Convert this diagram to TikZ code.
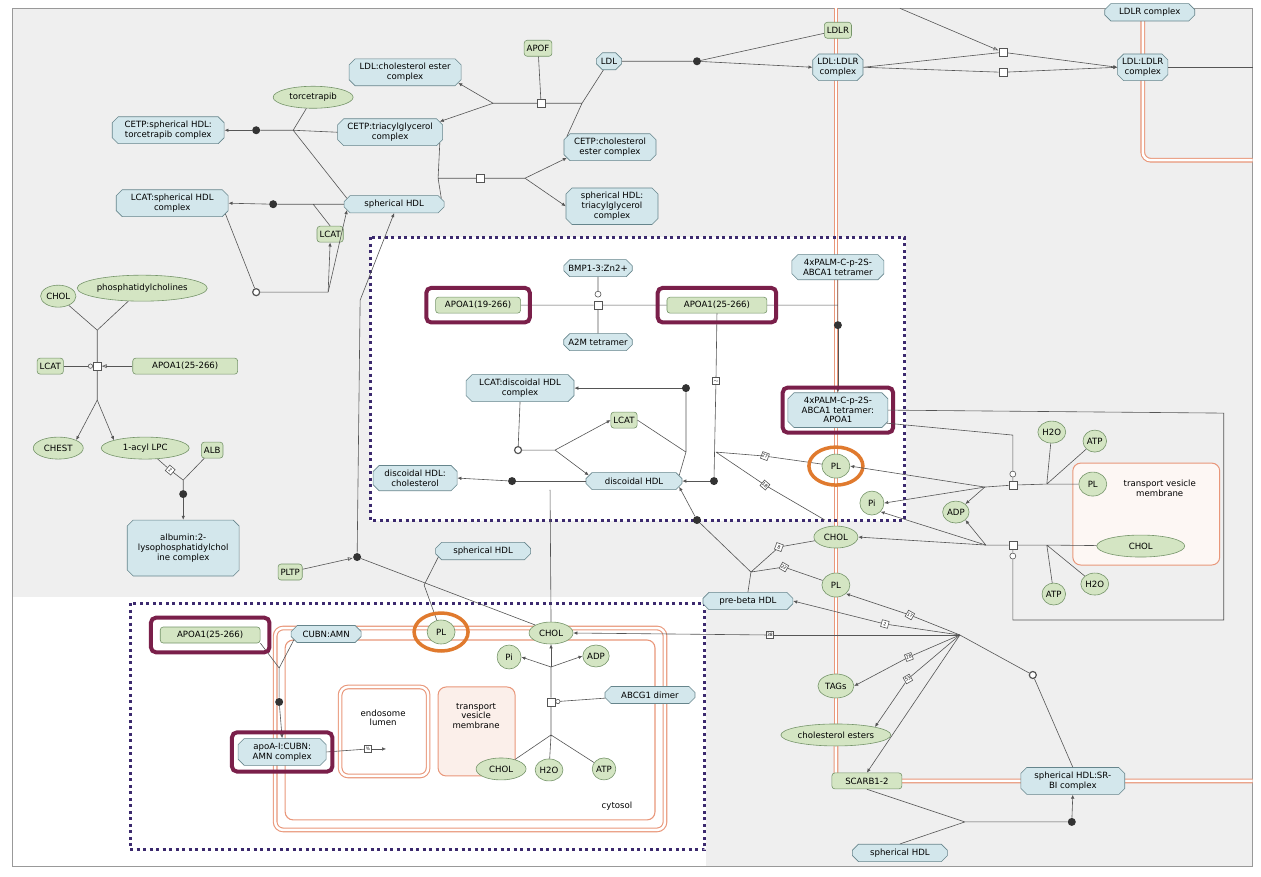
\documentclass[tikz,border=0pt]{standalone}
\usepackage{fontspec}
\setmainfont{DejaVu Sans}
\usetikzlibrary{shapes.misc,shapes.geometric,positioning,arrows.meta}
\definecolor{cplxfill}{HTML}{D3E7EC}
\definecolor{cplxline}{HTML}{66858C}
\definecolor{protfill}{HTML}{D4E5C3}
\definecolor{protline}{HTML}{76956A}
\definecolor{linec}{HTML}{555555}
\definecolor{memc}{HTML}{E9977A}
\definecolor{memfill}{HTML}{FBEFEA}
\definecolor{hlc}{HTML}{7A1F4A}
\definecolor{ringc}{HTML}{E07A2E}
\definecolor{boxc}{HTML}{3C2A6E}
\definecolor{bgc}{HTML}{EFEFEF}
\tikzset{
  cplx/.style={chamfered rectangle, chamfered rectangle xsep=2pt, chamfered rectangle sep=3pt,
    draw=cplxline, fill=cplxfill, align=center, inner sep=1.5pt, minimum height=17pt},
  prot/.style={rectangle, rounded corners=3pt, draw=protline, fill=protfill, minimum height=16pt, inner sep=2.5pt},
  chem/.style={ellipse, draw=protline, fill=protfill, inner sep=0.5pt, minimum height=22pt},
  proc/.style={rectangle, draw=linec, fill=white, minimum size=8pt, inner sep=0pt},
  lbl/.style={rectangle, draw=linec, fill=white, minimum size=7pt, inner sep=0.5pt, font=\fontsize{4.5}{5}\selectfont},
  dot/.style={circle, fill=black!80, minimum size=8pt, inner sep=0pt},
  ocirc/.style={circle, draw=linec, line width=1.2pt, fill=white, minimum size=7pt, inner sep=0pt},
  hl/.style={draw=hlc, line width=4pt, rounded corners=5pt},
  ring/.style={draw=ringc, line width=3.5pt},
  mem/.style={draw=memc, double=white, double distance=2.5pt, line width=1.1pt, rounded corners=8pt},
  dotbox/.style={draw=boxc, line width=3pt, dash pattern=on 3pt off 3.5pt},
  every path/.style={draw=linec, line width=0.6pt}
}
\begin{document}
\begin{tikzpicture}[x=1pt, y=-1pt, font=\fontsize{8.6}{9.6}\selectfont, >={Latex[length=4pt,width=3.5pt]}]
\useasboundingbox (0,0) rectangle (1261,876);
\fill[white] (0,0) rectangle (1261,876);
% compartments and boxes
\fill[bgc] (12,8) rectangle (1253,866);
\fill[white] (370,237) rectangle (905,520);
\fill[white] (12,597) rectangle (705,866);
\draw[linec!60, line width=0.8pt] (12,8) rectangle (1253,866);
\draw[mem, rounded corners=0pt] (836,8) -- (836,770);
\draw[mem] (836,740) -- (836,781) -- (1253,781);
\draw[mem] (1143,8) -- (1143,160) -- (1253,160);
\draw[mem] (275,628) rectangle (665,830);
\draw[draw=memc, line width=1.1pt, rounded corners=8pt] (285,640) rectangle (655,820);
\draw[mem] (340,687) rectangle (428,776);
\draw[draw=memc, fill=memfill, line width=1pt, rounded corners=8pt] (438,687) rectangle (515,776);
\draw[draw=memc, fill=memfill!50, line width=1pt, rounded corners=8pt] (1073,463) rectangle (1220,565);
\draw[dotbox] (370,237) rectangle (905,520);
\draw[dotbox] (130,603) rectangle (705,850);
\node[align=center] at (383,718) {endosome\\lumen};
\node[align=center] at (476,716) {transport\\vesicle\\membrane};
\node at (617,806) {cytosol};
\node[align=center] at (1160,488) {transport vesicle\\membrane};

% top left
\node[cplx, minimum width=112] (ldlce) at (405,72) {LDL:cholesterol ester\\complex};
\node[prot] (apof) at (538,48) {APOF};
\node[cplx] (ldl) at (609,61) {LDL};
\node[chem, minimum width=80] (torc) at (313,97) {torcetrapib};
\node[cplx, minimum width=112] (cetptor) at (168,130) {CETP:spherical HDL:\\torcetrapib complex};
\node[cplx, minimum width=105] (cetptag) at (390,132) {CETP:triacylglycerol\\complex};
\node[cplx, minimum width=92] (cetpce) at (610,147) {CETP:cholesterol\\ester complex};
\node[cplx, minimum width=92] (shdltag) at (612,206) {spherical HDL:\\triacylglycerol\\complex};
\node[cplx, minimum width=100] (shdl) at (394,204) {spherical HDL};
\node[cplx, minimum width=112] (lcatshdl) at (172,203) {LCAT:spherical HDL\\complex};
\node[prot] (lcat1) at (330,234) {LCAT};
\node[ocirc] (oc1) at (256,292) {};
\node[proc] (p1) at (541,103) {};
\node[proc] (p2) at (480,178) {};
\node[dot] (d2) at (256,130) {};
\node[dot] (d3) at (273,204) {};
\coordinate (b1) at (582,103);
\coordinate (b2) at (493,103);
\coordinate (b3) at (438,178);
\coordinate (b4) at (525,178);
\coordinate (b5) at (293,130);
\coordinate (b6) at (313,204);
\coordinate (b7) at (328,292);
\draw (ldl) -- (b1) (cetpce.north west) -- (b1) (b1) -- (p1) -- (b2) (apof) -- (p1);
\draw[->] (b2) -- (ldlce.south east);
\draw[->] (b2) -- (cetptag.north east);
\draw (cetptag.south east) -- (b3) (shdl.north east) -- (b3) (b3) -- (p2) -- (b4);
\draw[->] (b4) -- (cetpce.south west);
\draw[->] (b4) -- (shdltag.west);
\draw (torc) -- (b5) (cetptag.west) -- (b5) (shdl.north west) -- (b5) (b5) -- (d2);
\draw[->] (d2) -- (cetptor.east);
\draw (shdl.west) -- (b6) (lcat1.north) -- (b6) (b6) -- (d3);
\draw[->] (d3) -- (lcatshdl.east);
\draw (lcatshdl.south east) -- (oc1) -- (b7);
\draw[->] (b7) -- (lcat1.south);
\draw[->] (b7) -- (shdl.south west);

% top right
\node[prot] (ldlr) at (838,30) {LDLR};
\node[cplx] (ldlldlr) at (838,67) {LDL:LDLR\\complex};
\node[cplx] (ldlldlr2) at (1143,67) {LDL:LDLR\\complex};
\node[cplx, minimum width=90] (ldlrc) at (1150,12) {LDLR complex};
\node[dot] (d1) at (697,61) {};
\node[proc] (p3) at (1003,52) {};
\node[proc] (p4) at (1003,72) {};
\coordinate (t1) at (900,8);
\coordinate (t2) at (1253,67);
\draw (ldl) -- (d1) (ldlr) -- (d1);
\draw[->] (d1) -- (ldlldlr.west);
\draw[-{Latex[open,length=5pt,width=4pt]}] (t1) -- (p3);
\draw (ldlldlr.east) -- (p3) (ldlldlr.east) -- (p4);
\draw[->] (p3) -- (ldlldlr2.west);
\draw[->] (p4) -- (ldlldlr2.west);
\draw (ldlldlr2.east) -- (t2);

% left LCAT reaction
\node[chem] (chol1) at (58,296) {CHOL};
\node[chem, minimum width=110, minimum height=26] (pc) at (142,288) {phosphatidylcholines};
\node[prot] (lcat0) at (50,366) {LCAT};
\node[prot, minimum width=105] (apo0) at (185,366) {APOA1(25-266)};
\node[proc] (p0) at (97,366) {};
\node[chem, minimum width=50] (chest) at (58,448) {CHEST};
\node[chem, minimum width=88] (lpc) at (145,448) {1-acyl LPC};
\node[prot] (alb) at (212,450) {ALB};
\node[lbl, rotate=-40] (l2a) at (170,470) {2};
\node[dot] (d0) at (183,494) {};
\node[cplx, minimum width=112, minimum height=56] (albc) at (183,548) {albumin:2-\\lysophosphatidylchol\\ine complex};
\coordinate (b8) at (97,330);
\coordinate (b9) at (97,400);
\coordinate (b10) at (183,480);
\draw (chol1) -- (b8) (pc) -- (b8) (b8) -- (p0) -- (b9);
\draw[-{Circle[open,length=5pt]}] (lcat0) -- (p0);
\draw[-{Latex[open,length=5pt,width=4pt]}] (apo0) -- (p0);
\draw[->] (b9) -- (chest.north east);
\draw[->] (b9) -- (lpc.north west);
\draw (lpc) -- (l2a) -- (b10) (alb) -- (b10) (b10) -- (d0);
\draw[->] (d0) -- (albc.north);

% inner box
\node[cplx] (bmp) at (598,268) {BMP1-3:Zn2+};
\node[cplx] (a2m) at (598,342) {A2M tetramer};
\node[prot, minimum width=85] (apo19) at (478,305) {APOA1(19-266)};
\node[prot, minimum width=100] (apo25) at (717,305) {APOA1(25-266)};
\node[cplx, minimum width=92] (abca) at (838,267) {4xPALM-C-p-2S-\\ABCA1 tetramer};
\node[cplx, minimum width=100] (abcaapo) at (838,410) {4xPALM-C-p-2S-\\ABCA1 tetramer:\\APOA1};
\node[cplx, minimum width=108] (lcatdisc) at (520,388) {LCAT:discoidal HDL\\complex};
\node[prot] (lcat2) at (624,420) {LCAT};
\node[cplx, minimum width=96] (disc) at (634,481) {discoidal HDL};
\node[cplx, minimum width=84] (discchol) at (415,478) {discoidal HDL:\\cholesterol};
\node[chem, minimum width=28, minimum height=24] (pl1) at (836,466) {PL};
\node[chem, minimum width=24, minimum height=24] (pi1) at (872,503) {Pi};
\node[proc] (p5) at (598,305) {};
\node[ocirc, minimum size=6pt, line width=0.6pt] (oc5) at (598,294) {};
\node[dot] (d5) at (838,325) {};
\node[dot] (d6) at (686,388) {};
\node[dot] (d7) at (714,481) {};
\node[dot] (d8) at (512,481) {};
\node[ocirc] (oc6) at (518,450) {};
\node[lbl] (ltil) at (716,381) {$\sim$};
\node[lbl, rotate=-20] (l27) at (765,456) {27};
\node[lbl, rotate=-40] (l18) at (765,485) {18};
\coordinate (b11) at (686,452);
\coordinate (b12) at (555,450);
\coordinate (b13) at (716,452);
\coordinate (b14) at (838,305);
\draw (apo19) -- (p5) -- (apo25) (bmp) -- (oc5) (a2m) -- (p5);
\draw (apo25.east) -- (b14) (abca) -- (d5);
\draw[->] (d5) -- (abcaapo.north);
\draw (apo25.south) -- (ltil) -- (d7);
\draw[->] (d7) -- (disc.east);
\draw (lcat2.east) -- (b11) (disc.north east) -- (b11) (b11) -- (d6);
\draw[->] (d6) -- (lcatdisc.east);
\draw (lcatdisc.south) -- (oc6) -- (b12);
\draw[->] (b12) -- (lcat2.west);
\draw[->] (b12) -- (disc.north west);
\draw (disc.west) -- (d8);
\draw[->] (d8) -- (discchol.east);
\draw (b13) -- (l27) -- (pl1) (b13) -- (l18) -- (825,520);
\draw[hl] ([xshift=-9pt,yshift=9pt]apo19.north west) rectangle ([xshift=9pt,yshift=-9pt]apo19.south east);
\draw[hl] ([xshift=-9pt,yshift=9pt]apo25.north west) rectangle ([xshift=9pt,yshift=-9pt]apo25.south east);
\draw[hl] ([xshift=-8pt,yshift=8pt]abcaapo.north west) rectangle ([xshift=8pt,yshift=-8pt]abcaapo.south east);
\draw[ring] (pl1) ellipse (27pt and 19pt);

% right side
\node[chem] (h2o1) at (1052,432) {H2O};
\node[chem] (atp1) at (1095,441) {ATP};
\node[chem, minimum width=28, minimum height=24] (pl2) at (1093,484) {PL};
\node[chem] (adp1) at (956,512) {ADP};
\node[chem, minimum width=88] (chol2) at (1141,546) {CHOL};
\node[chem] (atp2) at (1054,594) {ATP};
\node[chem] (h2o2) at (1095,584) {H2O};
\node[chem, minimum width=44] (chol3) at (836,537) {CHOL};
\node[chem, minimum width=28, minimum height=24] (pl3) at (836,585) {PL};
\node[cplx, minimum width=90] (prebeta) at (748,601) {pre-beta HDL};
\node[chem, minimum width=36, minimum height=24] (tags) at (836,686) {TAGs};
\node[chem, minimum width=110] (ce) at (836,735) {cholesterol esters};
\node[prot, minimum width=70] (scarb) at (867,781) {SCARB1-2};
\node[cplx, minimum width=104] (srbi) at (1073,781) {spherical HDL:SR-\\BI complex};
\node[cplx, minimum width=95] (shdl3) at (900,853) {spherical HDL};
\node[proc] (p6) at (1013,485) {};
\node[proc] (p7) at (1013,545) {};
\node[ocirc, minimum size=6pt, line width=0.6pt] (oc2) at (1013,474) {};
\node[ocirc, minimum size=6pt, line width=0.6pt] (oc3) at (1013,556) {};
\node[ocirc] (oc4) at (1033,675) {};
\node[dot] (d9) at (1072,822) {};
\node[dot] (d10) at (697,520) {};
\node[lbl, rotate=-20] (l8) at (779,547) {8};
\node[lbl, rotate=-30] (l22) at (784,567) {22};
\node[lbl, rotate=-30] (l17) at (910,615) {17};
\node[lbl, rotate=-15] (l2b) at (885,624) {2};
\node[lbl] (l38) at (770,635) {38};
\node[lbl, rotate=20] (l28) at (909,657) {28};
\node[lbl, rotate=30] (l53) at (908,679) {53};
\coordinate (hub) at (960,635);
\coordinate (b15) at (1047,484);
\coordinate (b16) at (985,487);
\coordinate (b17) at (1047,545);
\coordinate (b18) at (986,545);
\coordinate (b19) at (751,572);
\coordinate (b20) at (965,822);
\draw (abcaapo.east) -- (1224,413) -- (1224,620) -- (1013,620) -- (oc3) -- (p7);
\draw (abcaapo.-15) -- (1013,435) -- (oc2) -- (p6);
\draw (pl2) -- (b15) (h2o1) -- (b15) (atp1.south west) -- (b15) (b15) -- (p6) -- (b16);
\draw[->] (b16) -- (pl1.east);
\draw[->] (b16) -- (pi1.east);
\draw[->] (b16) -- (adp1.north east);
\draw (chol2) -- (b17) (atp2) -- (b17) (h2o2.north west) -- (b17) (b17) -- (p7) -- (b18);
\draw[->] (b18) -- (chol3.east);
\draw[->] (b18) -- (adp1.south east);
\draw[->] (b18) -- (pi1.south east);
\draw (chol3) -- (l8) -- (b19) (pl3) -- (l22) -- (b19) (prebeta.north) -- (b19) (b19) -- (d10);
\draw[->] (d10) -- (disc.south east);
\draw[->] (hub) -- (l17) -- (pl3.south east);
\draw[->] (hub) -- (l2b) -- (prebeta.east);
\draw[->] (hub) -- (l28) -- (tags.east);
\draw[->] (hub) -- (l53) -- (ce.north east);
\draw[->] (hub) -- (scarb.north);
\draw (hub) -- (oc4) -- (srbi.north);
\draw (scarb.south) -- (b20) (shdl3.north) -- (b20) (b20) -- (d9);
\draw[->] (d9) -- (srbi.south);

% lower left box
\node[prot] (pltp) at (290,572) {PLTP};
\node[cplx, minimum width=95] (shdl2) at (483,551) {spherical HDL};
\node[prot, minimum width=100] (apo25b) at (210,635) {APOA1(25-266)};
\node[cplx, minimum width=70] (cubn) at (326,634) {CUBN:AMN};
\node[cplx, minimum width=88] (apoacubn) at (282,752) {apoA-I:CUBN:\\AMN complex};
\node[chem, minimum width=28, minimum height=24] (pl4) at (441,632) {PL};
\node[chem, minimum width=44] (chol4) at (551,633) {CHOL};
\node[chem, minimum width=24, minimum height=24] (pi2) at (509,657) {Pi};
\node[chem] (adp2) at (596,656) {ADP};
\node[cplx, minimum width=90] (abcg) at (650,695) {ABCG1 dimer};
\node[chem, minimum width=50] (chol5) at (501,769) {CHOL};
\node[chem] (h2o3) at (549,770) {H2O};
\node[chem] (atp3) at (604,769) {ATP};
\node[dot] (d11) at (357,557) {};
\node[dot] (d12) at (279,702) {};
\node[proc] (p8) at (551,702) {};
\node[lbl] (lpct) at (368,749) {\%};
\coordinate (e1) at (386,749);
\coordinate (b21) at (279,668);
\coordinate (b22) at (424,585);
\coordinate (b23) at (551,667);
\coordinate (b24) at (551,735);
\draw[-{Latex[open,length=5pt,width=4pt]}] (pltp) -- (d11);
\draw[->] (d11) -- (360,300) -- (shdl.south);
\draw (d11) -- (chol4.north west) (shdl2.south west) -- (b22) (pl4) -- (b22);
\draw (disc.south) ++(-84,0) coordinate (e2) -- (chol4.north);
\draw (apo25b.south east) -- (b21) (cubn.south west) -- (b21) (b21) -- (d12);
\draw[->] (d12) -- (apoacubn.north);
\draw (apoacubn.east) -- (lpct);
\draw[->] (lpct) -- (e1);
\draw (hub) -- (l38);
\draw[->] (l38) -- (chol4.east);
\draw (chol5) -- (b24) (h2o3) -- (b24) (atp3) -- (b24) (b24) -- (p8) -- (b23);
\draw[-{Circle[open,length=5pt]}] (abcg) -- (p8);
\draw[->] (b23) -- (chol4.south);
\draw[->] (b23) -- (pi2.east);
\draw[->] (b23) -- (adp2.west);
\draw[hl] ([xshift=-9pt,yshift=9pt]apo25b.north west) rectangle ([xshift=9pt,yshift=-9pt]apo25b.south east);
\draw[hl] ([xshift=-9pt,yshift=9pt]apoacubn.north west) rectangle ([xshift=9pt,yshift=-9pt]apoacubn.south east);
\draw[ring] (pl4) ellipse (27pt and 19pt);
\end{tikzpicture}
\end{document}
